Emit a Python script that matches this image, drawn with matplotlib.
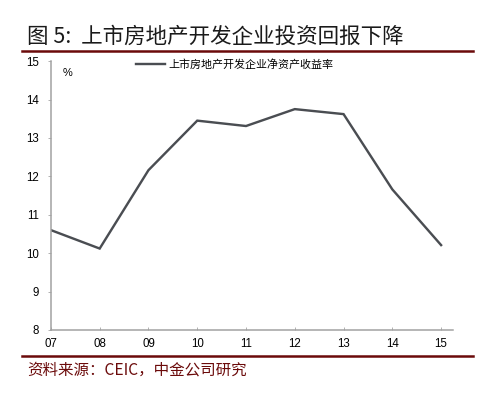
import matplotlib
matplotlib.use("Agg")
import matplotlib.pyplot as plt
from matplotlib.lines import Line2D

plt.rcParams['font.family'] = ['Liberation Sans', 'Noto Sans CJK SC', 'DejaVu Sans']

# 数据
years = ['07', '08', '09', '10', '11', '12', '13', '14', '15']
roe = [10.6, 10.12, 12.16, 13.45, 13.31, 13.75, 13.62, 11.66, 10.21]
y_ticks = [8, 9, 10, 11, 12, 13, 14, 15]

fig = plt.figure(figsize=(7, 5.5), dpi=72)
ax = fig.add_axes([0.101, 0.1667, 0.798, 0.679])

x = list(range(len(years)))
ax.plot(x, roe, color='#4a4d52', linewidth=2.4, solid_joinstyle='miter',
        label='上市房地产开发企业净资产收益率')

ax.set_xlim(0, 8.246)
ax.set_ylim(8, 15)
ax.set_xticks(x)
ax.set_xticklabels(years)
ax.set_yticks(y_ticks)

for s in ['top', 'right']:
    ax.spines[s].set_visible(False)
for s in ['left', 'bottom']:
    ax.spines[s].set_color('#a0a0a0')
    ax.spines[s].set_linewidth(1.5)
ax.tick_params(axis='x', direction='in', length=3, color='#a0a0a0', labelsize=11.5, pad=8)
ax.tick_params(axis='y', direction='out', length=3, color='#a0a0a0', labelsize=11.5, pad=9)

ax.text(0.028, 0.955, '%', transform=ax.transAxes, fontsize=11, va='center', ha='left')

leg = ax.legend(loc='upper left', bbox_to_anchor=(0.2, 1.025), frameon=False,
                handlelength=2.7, handletextpad=0.25, borderaxespad=0,
                prop={'family': ['Noto Sans CJK SC'], 'size': 11})

# 标题和来源
fig.text(0.054, 0.908, '图 5:  上市房地产开发企业投资回报下降', fontsize=21.5,
         color='#1a1a1a', ha='left', va='center', style='italic',
         family=['Noto Sans CJK SC', 'DejaVu Sans'])
fig.add_artist(Line2D([0.044, 0.938], [0.871, 0.871], color='#6b0a0a', linewidth=2.5))
fig.add_artist(Line2D([0.044, 0.938], [0.101, 0.101], color='#6b0a0a', linewidth=2.5))
fig.text(0.054, 0.066, '资料来源：CEIC，中金公司研究', fontsize=15.5, color='#6b0a0a',
         ha='left', va='center', style='italic',
         family=['Noto Sans CJK SC', 'DejaVu Sans'])

fig.savefig('out.png', dpi=72)
